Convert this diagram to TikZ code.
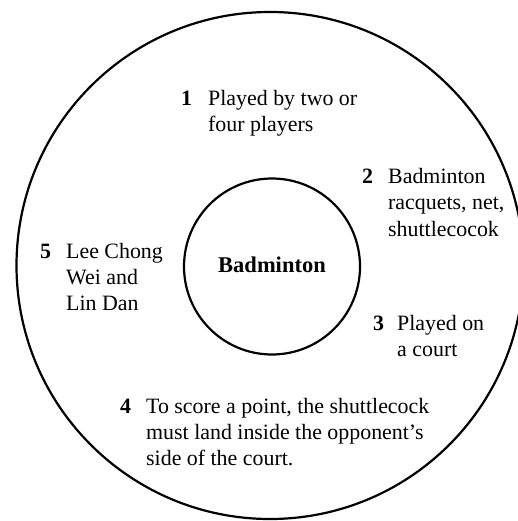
\documentclass[tikz,border=0pt]{standalone}
\usepackage{fontspec}
\setmainfont{Liberation Serif}
\usepackage{array}
\begin{document}
\begin{tikzpicture}[x=1pt,y=-1pt,
  ring/.style={draw=black,line width=2.2pt,circle,inner sep=0pt},
  item/.style={anchor=base west,inner sep=0pt,font=\fontsize{21.9}{26}\selectfont}]
\useasboundingbox (0,0) rectangle (517,521);
\node[ring,minimum size=507pt] (outer) at (270,265.5) {};
\node[ring,minimum size=176pt] (inner) at (272,266.5) {};
\node[anchor=base,inner sep=0pt,font=\fontsize{22.5}{26}\selectfont\bfseries] (title) at (272,272) {Badminton};
\node[item] (i1) at (181,106) {\begin{tabular}[t]{@{}>{\bfseries}p{27pt}@{}l@{}}1 & Played by two or\\ & four players\end{tabular}};
\node[item] (i2) at (362,184) {\begin{tabular}[t]{@{}>{\bfseries}p{26pt}@{}l@{}}2 & Badminton\\ & racquets, net,\\ & shuttlecocok\end{tabular}};
\node[item] (i3) at (373,330) {\begin{tabular}[t]{@{}>{\bfseries}p{24pt}@{}l@{}}3 & Played on\\ & a court\end{tabular}};
\node[item] (i4) at (120,413) {\begin{tabular}[t]{@{}>{\bfseries}p{26pt}@{}l@{}}4 & To score a point, the shuttlecock\\ & must land inside the opponent’s\\ & side of the court.\end{tabular}};
\node[item] (i5) at (40,258) {\begin{tabular}[t]{@{}>{\bfseries}p{26pt}@{}l@{}}5 & Lee Chong\\ & Wei and\\ & Lin Dan\end{tabular}};
\end{tikzpicture}
\end{document}
